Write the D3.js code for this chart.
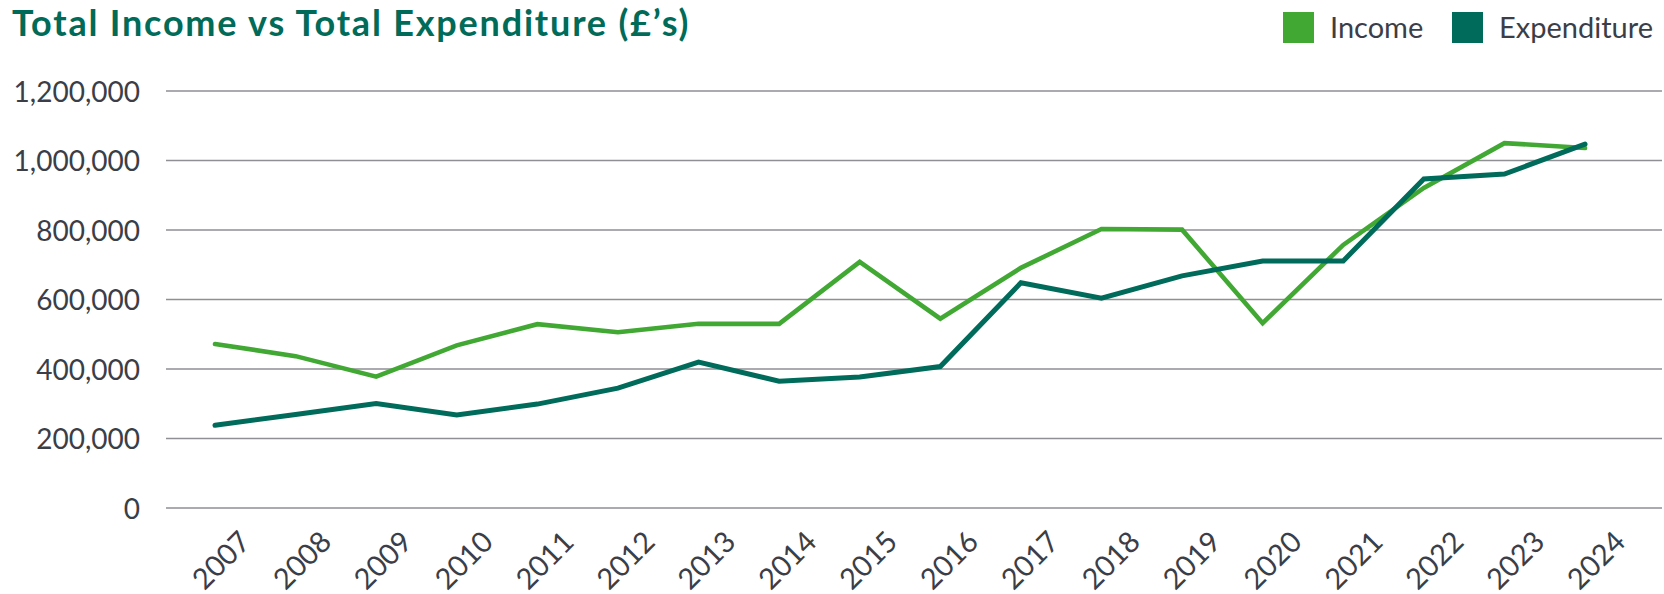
<!DOCTYPE html>
<html>
<head>
<meta charset="utf-8">
<script src="https://cdn.jsdelivr.net/npm/d3@7"></script>
<style>
	body { margin: 0; background: #fff; }
	#chart-area text { font-family: Lato, "Noto Sans", sans-serif; fill: #3b3e47; }
	.title { font-weight: 700; fill: #006b58 !important; }
	.grid line { stroke: #8f8f94; stroke-width: 1.3; }
	.line { fill: none; stroke-linecap: round; stroke-linejoin: miter; }
</style>
</head>
<body>
<div id="chart-area"></div>
<script>
// chart data
const years = ["2007", "2008", "2009", "2010", "2011", "2012", "2013", "2014", "2015",
	"2016", "2017", "2018", "2019", "2020", "2021", "2022", "2023", "2024"];
const income = [472000, 437000, 378000, 468000, 529000, 506000, 530000, 530000, 708000,
	545000, 691000, 803000, 801000, 532000, 757000, 921000, 1050000, 1036000];
const expenditure = [238000, 269000, 301000, 268000, 299000, 345000, 420000, 365000, 377000,
	407000, 648000, 604000, 668000, 711000, 711000, 947000, 961000, 1047000];
const yTicks = [0, 200000, 400000, 600000, 800000, 1000000, 1200000];
const seriesNames = ["Income", "Expenditure"];
const colors = ["#41a834", "#006b5a"];

class LineVis {

	constructor(_parentElement) {
		this.parentElement = _parentElement;
		this.initVis();
	}

	initVis() {
		let vis = this;

		vis.width = 1664;
		vis.height = 594;

		vis.svg = d3.select("#" + vis.parentElement).append("svg")
			.attr("width", vis.width)
			.attr("height", vis.height);

		// Scales
		vis.x = d3.scalePoint()
			.domain(years)
			.range([215, 1585]);

		// rotated labels are nudged a little right of their points
		vis.xLabel = d3.scalePoint()
			.domain(years)
			.range([221, 1596]);

		vis.y = d3.scaleLinear()
			.domain([0, 1200000])
			.range([508, 91]);

		// Title
		vis.svg.append("text")
			.attr("class", "title")
			.attr("x", 12)
			.attr("y", 36)
			.style("font-size", "36px")
			.style("letter-spacing", "1.8px")
			.text("Total Income vs Total Expenditure (£’s)");

		// Gridlines
		vis.svg.append("g")
			.attr("class", "grid")
			.selectAll("line")
			.data(yTicks)
			.enter().append("line")
			.attr("x1", 166)
			.attr("x2", 1662)
			.attr("y1", d => vis.y(d))
			.attr("y2", d => vis.y(d));

		// Y axis labels
		vis.yAxis = d3.axisLeft(vis.y)
			.tickValues(yTicks)
			.tickSize(0)
			.tickPadding(0)
			.tickFormat(d3.format(","));

		vis.svg.append("g")
			.attr("class", "y-axis")
			.attr("transform", "translate(140,0)")
			.call(vis.yAxis)
			.call(g => g.select(".domain").remove())
			.selectAll("text")
			.attr("dy", "0.36em")
			.style("font-size", "28px");

		// X axis labels, rotated
		vis.svg.append("g")
			.attr("class", "x-axis")
			.selectAll("text")
			.data(years)
			.enter().append("text")
			.attr("text-anchor", "middle")
			.attr("dy", "0.36em")
			.attr("transform", d => "translate(" + vis.xLabel(d) + ",560) rotate(-45)")
			.style("font-size", "29px")
			.text(d => d);

		// Lines
		vis.line = d3.line()
			.x((d, i) => vis.x(years[i]))
			.y(d => vis.y(d));

		[income, expenditure].forEach((series, i) => {
			vis.svg.append("path")
				.datum(series)
				.attr("class", "line")
				.attr("stroke", colors[i])
				.attr("stroke-width", i === 0 ? 4.6 : 5)
				.attr("d", vis.line);
		});

		// Legend
		let legendX = [1283, 1452];
		let legend = vis.svg.append("g").attr("class", "legend");
		seriesNames.forEach((name, i) => {
			legend.append("rect")
				.attr("x", legendX[i])
				.attr("y", 12)
				.attr("width", 31)
				.attr("height", 31)
				.attr("fill", colors[i]);
			legend.append("text")
				.attr("x", legendX[i] + 47)
				.attr("y", 38)
				.style("font-size", "29px")
				.text(name);
		});
	}
}

new LineVis("chart-area");
</script>
</body>
</html>
